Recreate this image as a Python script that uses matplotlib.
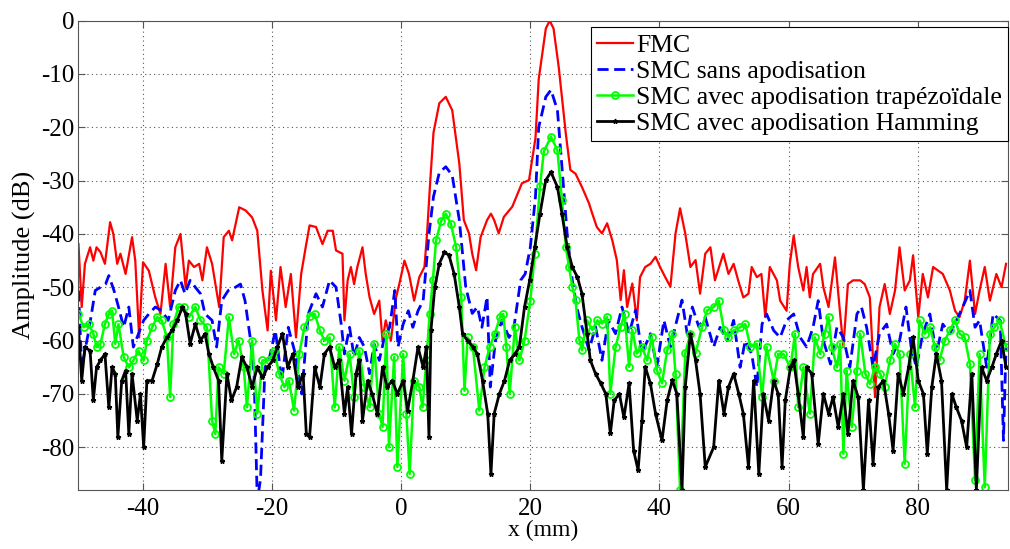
import matplotlib
matplotlib.use("Agg")
import matplotlib.pyplot as plt

plt.rcParams['font.family'] = ['Liberation Serif', 'DejaVu Serif']
plt.rcParams['axes.unicode_minus'] = False

# FMC
fmc_x = [-50, -49.5, -49, -48.2, -47.7, -47.2, -46.6, -45.9, -45.1, -44.6, -44, -43.5, -42.7, -41.7, -41.2,
         -40.6, -40, -39.1, -38.1, -37.3, -36.5, -35.8, -35, -34.2, -33.4, -32.9, -32.1, -31.3, -30.8, -30.1,
         -29.3, -28.2, -27.5, -26.7, -26.2, -25.1, -24.1, -23.1, -22.3, -21.5, -20.7, -20.2, -19.4, -18.7,
         -17.9, -17.1, -16.3, -15.5, -14.8, -14.2, -13.2, -12.2, -11.4, -10.6, -10.1, -9.1, -8.8, -8.3, -7.8,
         -7.3, -6.8, -6.0, -5.5, -4.9, -4.2, -3.4, -2.9, -2.4, -1.6, -0.8, -0.3, 0.5, 1.2, 2.0, 2.8, 3.6, 4.0,
         4.5, 5.0, 5.9, 6.9, 7.9, 9.0, 9.7, 10.5, 11.0, 11.6, 12.3, 13.3, 13.9, 14.4, 15.1, 15.9, 17.2, 18.7,
         19.8, 20.8, 21.3, 22.4, 23.0, 23.6, 24.4, 25.5, 26.2, 27.0, 28.0, 29.1, 29.6, 30.3, 31.1, 31.9, 32.7,
         33.4, 34.0, 34.5, 35.0, 35.8, 36.5, 37.0, 37.8, 38.6, 39.4, 40.1, 40.9, 41.7, 42.5, 43.2, 44.0, 44.8,
         45.6, 46.3, 47.1, 47.9, 48.6, 49.4, 49.9, 50.7, 51.5, 52.2, 53.0, 53.8, 54.3, 55.1, 55.8, 56.4, 57.1,
         58.2, 58.7, 59.7, 60.2, 60.8, 61.5, 62.3, 62.8, 63.3, 63.8, 64.9, 65.4, 66.2, 67.2, 68.0, 68.5, 69.2,
         70.0, 71.1, 71.8, 72.6, 73.4, 74.1, 74.9, 75.7, 76.5, 77.2, 78.0, 78.8, 79.3, 80.1, 80.8, 81.6, 82.4,
         83.2, 83.9, 85.0, 85.8, 86.5, 87.3, 88.1, 88.9, 89.6, 90.4, 91.2, 92.2, 93.0, 93.7]
fmc_y = [-41.9, -53.7, -45.6, -42.5, -45, -42.5, -43.4, -45.6, -37.8, -40, -45.6, -43.7, -47.5, -40.6, -45,
         -59.4, -45.3, -46.9, -51.9, -55, -45.6, -53.7, -42.5, -40, -50, -45, -46.2, -45.6, -48.7, -42.5,
         -45.6, -53.7, -40.6, -39.4, -41.2, -35, -35.6, -36.9, -39.4, -50.6, -58.1, -46.9, -56.2, -46.2,
         -53.7, -47.5, -59.4, -47.5, -42.5, -38.4, -38.7, -41.9, -39.4, -39.4, -43.1, -43.7, -56.2, -48.7, -46.2,
         -49.4, -46.2, -42.5, -47.5, -51.9, -55, -52.5, -60, -56.2, -60, -51.9, -49.4, -45, -47.5, -52.5, -48.1, -46.2, -40,
         -30, -21, -15.5, -14.3, -16.8, -26.8, -37.4, -39.9, -43.7, -46.8, -40.6, -37.4, -36.2, -37.4, -39.9, -36.8, -34.9, -30.5,
         -29.9, -22, -11, -1.5, 0, -1.5, -8.7, -21.2, -28, -28.7, -31.2, -34.3, -36.2, -38.7, -39.9, -38, -41.2,
         -44.9, -52.4, -46.8, -53.7, -49.3, -56.2, -48.1, -46.2, -45.6, -44.3, -46.2, -48.1, -49.9, -39.9, -35.2, -39.9, -46.2,
         -44.9, -51.2, -43.7, -42.5, -48.7, -45.6, -43.7, -47.5, -45.6, -48.7, -51.9, -51.2, -46.2, -48.1, -47.5, -55.6, -46.2,
         -48.7, -52.5, -54.4, -45.6, -40.3, -46.2, -50.6, -46.2, -51.9, -47.5, -45.6, -50, -53.7, -44.4, -55, -61.2, -49.4,
         -48.7, -48.7, -49.4, -51.9, -70.6, -53.7, -49.4, -55, -50.6, -42.5, -50.6, -48.7, -44, -55.6, -47.5, -51.9, -46.2,
         -46.9, -47.5, -50.6, -54.4, -55.6, -52.5, -45, -55, -50.6, -46.2, -52.5, -47.5, -50, -45.6]

# SMC sans apodisation
sans_x = [-50, -49.5, -48.4, -47.4, -46.6, -45.8, -45.3, -44.5, -43.8, -43.0, -42.2, -41.5, -40.7, -39.9, -39.1,
          -38.1, -37.1, -36.1, -35.0, -34.2, -33.5, -32.7, -31.9, -31.1, -30.4, -29.3, -28.6, -27.8, -26.8, -25.7,
          -24.9, -24.2, -23.4, -22.8, -22.3, -21.8, -21.1, -20.5, -19.5, -18.5, -17.5, -16.4, -15.4, -14.4, -13.2,
          -12.2, -11.1, -10.1, -9.3, -8.8, -8.0, -7.3, -6.5, -5.7, -4.9, -4.2, -3.4, -2.6, -1.8, -1.0, -0.5, 0.3,
          1.1, 1.8, 2.6, 3.4, 3.9, 4.3, 5.0, 5.9, 6.9, 7.9, 9.0, 10.0, 11.0, 11.8, 12.5, 13.3, 13.8, 14.6, 15.6,
          16.7, 17.4, 18.5, 19.2, 20.0, 20.8, 21.3, 22.4, 23.2, 24.2, 24.9, 25.7, 26.5, 27.3, 28.0, 29.1, 30.1,
          31.1, 32.1, 33.2, 34.2, 35.3, 36.3, 37.3, 38.6, 39.6, 40.7, 41.7, 42.7, 43.5, 44.3, 45.1, 46.1, 47.1,
          48.4, 49.4, 50.5, 51.5, 52.5, 53.3, 54.3, 55.1, 55.9, 56.6, 57.7, 58.7, 59.7, 60.8, 61.8, 62.8, 63.8,
          64.6, 65.4, 66.5, 67.5, 68.5, 69.5, 70.6, 71.3, 72.1, 73.1, 74.1, 75.2, 76.2, 77.2, 78.2, 79.0, 79.8,
          80.8, 81.9, 82.9, 83.9, 85.0, 86.0, 87.0, 88.1, 88.9, 89.6, 90.7, 91.7, 92.8, 93.3, 93.7]
sans_y = [-50.6, -65, -58.1, -50.6, -50, -49.4, -47.8, -50.6, -53.7, -57.5, -53.7, -61.2, -58.7, -56.2, -55,
          -53.7, -54.4, -56.2, -50.6, -48.7, -51.2, -48.7, -50, -51.2, -55, -56.2, -61.2, -52.5, -50.6, -50,
          -49.4, -52.5, -59.4, -66.2, -90, -86, -65, -63.7, -58.1, -67.5, -57.5, -62.5, -70, -55, -51.2,
          -53.7, -48.7, -50, -56.9, -62.5, -57.5, -63.1, -59.4, -61.2, -66.2, -60.6, -63.7, -59.4, -57.5, -50.6, -61.2, -56.9,
          -54.4, -57.5, -54.4, -52.5, -45.6, -40, -33, -28.5, -27.4, -29, -37.4, -50, -54.9, -53.7, -57.5, -51.8, -68.7, -60, -56.2,
          -59.4, -58, -48.7, -47.5, -42.5, -33, -20, -14.3, -13.0, -16.8, -27.4, -39.9, -48.7, -54.3, -57.4, -61.8, -57.4,
          -63.7, -56.2, -58.7, -53.7, -58.7, -54.3, -62.4, -58.7, -64.9, -56.2, -61.2, -56.2, -52.4, -58.7, -53.7, -57.4, -55.6,
          -61.2, -57.5, -60, -56.2, -65, -60, -62.5, -68.7, -56.9, -55, -58.1, -59.4, -56.2, -55, -59.4, -61.2, -57.5,
          -52.5, -60, -64.4, -57.5, -59.4, -65, -55, -53.7, -57.5, -65, -58.7, -56.9, -62.5, -60, -53.7, -61.2, -65,
          -58.7, -55, -62.5, -56.9, -58.7, -56.2, -53.7, -50.6, -57.5, -56.2, -65, -55, -56.2, -78.7, -61.2]

# SMC avec apodisation trapezoidale
trap_x = [-50, -49.2, -48.4, -47.7, -47.2, -46.6, -45.9, -45.3, -44.8, -44.3, -43.8, -43.0, -42.2, -41.5, -40.7,
          -39.9, -39.4, -38.6, -37.8, -37.1, -36.3, -35.8, -35.3, -34.5, -33.7, -32.9, -31.9, -31.1, -30.1, -29.3,
          -28.8, -28.3, -27.5, -26.7, -25.9, -25.2, -24.4, -23.9, -23.1, -22.3, -21.5, -20.5, -19.7, -18.9, -18.1,
          -17.4, -16.6, -15.8, -15.0, -14.2, -13.4, -12.6, -11.9, -11.1, -10.3, -9.6, -8.8, -8.0, -7.3, -6.5, -5.7,
          -4.9, -4.2, -3.4, -2.9, -2.3, -1.9, -1.1, -0.6, 0.3, 0.8, 1.3, 2.0, 2.8, 3.3, 3.9, 4.4, 4.9, 5.4, 6.2,
          6.9, 7.7, 8.5, 9.3, 9.8, 10.3, 11.1, 12.1, 12.9, 13.7, 14.5, 15.3, 15.8, 16.3, 16.8, 17.6, 18.3, 19.1,
          20.0, 20.7, 21.5, 22.1, 23.2, 24.2, 24.9, 25.5, 26.0, 26.5, 27.0, 27.6, 28.0, 28.8, 29.6, 30.4, 31.1,
          31.9, 32.4, 33.2, 34.0, 34.6, 35.3, 35.8, 36.5, 37.3, 38.1, 38.8, 39.6, 40.4, 41.2, 42.0, 42.5, 43.2,
          44.0, 44.8, 45.6, 46.6, 47.4, 48.4, 49.2, 50.0, 50.7, 51.5, 52.5, 53.3, 54.1, 55.1, 55.9, 56.6, 57.7,
          58.4, 59.2, 60.3, 61.0, 61.5, 62.3, 63.3, 64.1, 64.9, 65.6, 66.2, 66.7, 67.5, 68.0, 68.5, 69.0, 69.8,
          70.6, 71.1, 71.9, 72.6, 73.4, 74.2, 74.9, 75.7, 76.5, 77.2, 78.0, 78.8, 79.6, 80.3, 81.1, 81.9, 82.7,
          83.4, 84.2, 85.0, 85.8, 86.5, 87.3, 88.1, 88.9, 89.6, 90.4, 91.2, 91.9, 92.7, 93.7]
trap_y = [-55, -57.5, -56.9, -58.7, -61.2, -60.6, -56.9, -55, -54.4, -60.6, -56.9, -63.1, -65, -63.7, -61.9,
          -63.7, -60, -57.5, -55.6, -56.2, -59.4, -70.6, -56.9, -53.7, -53.7, -55.6, -53.7, -56.2, -57.5, -75,
          -77.5, -65, -66.2, -55.6, -62.5, -60, -65, -72.5, -60, -73.7, -63.7, -63.7, -61.9, -66.2, -68.7,
          -67.5, -73.1, -62.5, -57.5, -55.3, -55, -58.1, -60, -59.4, -72.5, -61.2, -67.5, -62.5, -70.6, -61.9, -68.7,
          -72.5, -60.6, -73.7, -76.2, -58.7, -80, -63.1, -83.7, -62.5, -73.7, -85, -67.5, -68.7, -72.5, -63.7, -55, -48.7, -41.2, -37.5,
          -36.2, -38.1, -42.5, -51.9, -69.4, -59.4, -61.2, -73.1, -65, -61.2, -58.7, -55.6, -55, -61.2, -70, -57.5, -63.7, -60,
          -52.5, -43.7, -31, -24.5, -21.8, -24.3, -33.7, -42.4, -46.2, -49.9, -52.4, -59.9, -61.8, -56.2, -58, -56.2, -56.8,
          -55.6, -70, -61.2, -57.4, -55, -64.9, -58, -62.4, -61.2, -63.7, -59.3, -65.5, -68, -61.8, -58.7, -66.2, -88,
          -62.4, -58.7, -62.4, -57.4, -54.3, -53.7, -52.5, -58.1, -59.4, -58.1, -57.5, -56.9, -61.2, -60.6, -70.6, -61.2, -67.5,
          -62.5, -62.5, -65, -58.7, -72.5, -65, -73.7, -59.4, -62.5, -58.7, -55.6, -61.2, -65, -60.6, -81.2, -65.6, -76.2,
          -65.6, -58.7, -66.2, -68.1, -65, -66.2, -68.7, -63.7, -60.6, -62.5, -83.1, -62.5, -72.5, -56.2, -58.7, -57.5, -61.2,
          -63.7, -60, -58.1, -56.2, -58.7, -59.4, -64.4, -86.2, -62.5, -87.5, -58.7, -57.5, -56.2, -61.2]

# SMC avec apodisation Hamming
hamm_x = [-50, -49.5, -49.0, -48.2, -47.7, -47.2, -46.6, -45.9, -45.3, -44.8, -44.3, -43.9, -43.3, -42.7, -42.2,
          -41.7, -40.9, -40.4, -39.9, -39.4, -38.6, -37.8, -37.1, -36.3, -35.5, -34.7, -33.9, -33.4, -32.7, -31.9,
          -31.1, -30.4, -29.8, -29.1, -28.3, -27.8, -27.0, -26.3, -25.5, -24.7, -23.9, -23.1, -22.3, -21.5, -20.7,
          -19.9, -19.2, -18.4, -17.6, -16.8, -16.0, -15.2, -14.7, -14.2, -13.4, -12.6, -11.9, -11.1, -10.3, -9.6,
          -8.8, -8.3, -7.7, -7.0, -6.5, -6.0, -5.2, -4.5, -3.7, -2.9, -2.2, -1.4, -0.6, 0.3, 1.0, 1.8, 2.6, 3.4,
          3.9, 4.3, 4.6, 5.2, 5.9, 6.7, 7.4, 8.2, 9.0, 9.5, 10.3, 11.1, 11.8, 12.6, 13.4, 13.9, 14.4, 15.2, 16.0,
          16.8, 17.6, 18.3, 19.1, 19.9, 20.7, 21.5, 22.4, 23.2, 24.2, 24.9, 25.7, 26.5, 27.3, 28.0, 28.8, 29.3,
          30.1, 30.9, 31.7, 32.4, 33.0, 33.8, 34.5, 35.3, 36.0, 36.7, 37.3, 37.8, 38.6, 39.4, 40.4, 41.2, 42.0,
          42.7, 43.5, 44.0, 44.8, 45.6, 46.3, 47.1, 48.4, 49.2, 50.0, 50.7, 51.5, 52.3, 53.0, 53.8, 54.6, 55.4,
          56.1, 56.9, 57.7, 58.4, 59.0, 59.5, 60.3, 60.8, 61.5, 62.3, 62.8, 63.6, 64.6, 65.4, 66.2, 66.9, 67.7,
          68.5, 69.2, 70.0, 70.8, 71.6, 72.4, 73.1, 73.9, 74.7, 75.5, 76.2, 77.0, 77.8, 78.6, 79.3, 80.1, 80.9,
          81.5, 82.2, 82.9, 83.7, 84.5, 85.3, 86.0, 86.8, 87.6, 88.4, 89.1, 89.9, 90.7, 91.5, 92.2, 93.0, 93.7]
hamm_y = [-57.5, -67.5, -61.2, -61.9, -71.2, -65, -63.7, -62.5, -72.5, -65, -66.2, -78.1, -67.5, -65.6, -77.5,
          -66.2, -75, -70, -80, -67.5, -67.5, -64.4, -61.2, -59.4, -58.1, -56.2, -53.7, -55, -60.6, -56.9,
          -60, -58.7, -62.5, -65, -67.5, -82.5, -66.2, -71.2, -68.7, -63.1, -65, -68.7, -65, -66.9, -65,
          -63.7, -61.2, -58.7, -65, -62.5, -68.7, -66.2, -77.5, -78.1, -65, -68.7, -62.5, -61.2, -65, -63.7,
          -73.7, -68.7, -77.5, -66.2, -63.7, -75, -67.5, -70, -73.7, -65, -68.7, -67.5, -70, -67.5, -73.1, -67.5, -61.2, -65,
          -61.2, -78.1, -58.1, -50, -45.6, -43.4, -44, -47.5, -53.7, -58.7, -60, -61.2, -62.5, -67.5, -73.7, -85, -73.7, -70, -67.5,
          -63.7, -62.5, -61.2, -53.7, -48.7, -42.5, -36.2, -29.9, -28.4, -31.2, -36.2, -42.4, -46.2, -48.1, -51.2, -58.7, -63.7,
          -66.2, -68, -70, -77.4, -71.2, -70, -74.4, -68, -80.6, -84.3, -75, -64.9, -68, -73.7, -78.7, -71.2, -67.4,
          -70, -88, -68.7, -58.7, -63.7, -70, -83.7, -80, -67.5, -73.7, -68.7, -66.2, -70, -73.7, -83.7, -67.5, -85,
          -70, -75, -67.5, -70, -83.7, -71.2, -65, -63.7, -70, -78.1, -65, -66.2, -79.4, -70, -73.7, -70.6, -76.2,
          -70, -77.5, -67.5, -70.6, -88, -71.2, -83.1, -68.7, -67.5, -73.7, -80.6, -66.2, -70, -65, -59.4, -67.5, -70,
          -81.2, -68.7, -62.5, -67.5, -88, -70, -72.5, -75, -80, -66.2, -88, -65, -67.5, -65, -62.5, -60, -65]

fig = plt.figure(figsize=(10.1, 5.49), dpi=100)
ax = fig.add_axes([0.0777, 0.1075, 0.9203, 0.855])

ax.plot(fmc_x, fmc_y, color='#ff0000', lw=1.6, label='FMC')
ax.plot(sans_x, sans_y, color='#0000ff', lw=2.0, linestyle=(0, (4, 2)), label='SMC sans apodisation')
ax.plot(trap_x, trap_y, color='#00ff00', lw=1.8, marker='o', ms=5, mfc='none', mew=1.3,
        label='SMC avec apodisation trapézoïdale')
ax.plot(hamm_x, hamm_y, color='black', lw=2.0, marker='*', ms=3.5, label='SMC avec apodisation Hamming')

ax.set_xlim(-50, 94)
ax.set_ylim(-88, 0)
ax.set_xticks([-40, -20, 0, 20, 40, 60, 80])
ax.set_yticks([-80, -70, -60, -50, -40, -30, -20, -10, 0])
ax.grid(True, linestyle=(0, (1, 3)), color='#555555', lw=0.8)
ax.tick_params(direction='in', top=True, right=True, labelsize=18, length=5, color='#555555')
ax.tick_params(axis='x', pad=6)
ax.tick_params(axis='y', pad=3)
for s in ax.spines.values():
    s.set_color('#555555')
ax.set_xlabel('x (mm)', fontsize=17, labelpad=0)
ax.set_ylabel('Amplitude (dB)', fontsize=19, labelpad=4)

leg = ax.legend(loc='upper left', bbox_to_anchor=(0.5514, 0.986), fontsize=18.5, handlelength=1.4,
                handletextpad=0.1, labelspacing=0.12, borderpad=0.25, borderaxespad=0,
                fancybox=False, framealpha=1, edgecolor='black')
leg.get_frame().set_linewidth(0.8)

fig.savefig('out.png', dpi=100)
